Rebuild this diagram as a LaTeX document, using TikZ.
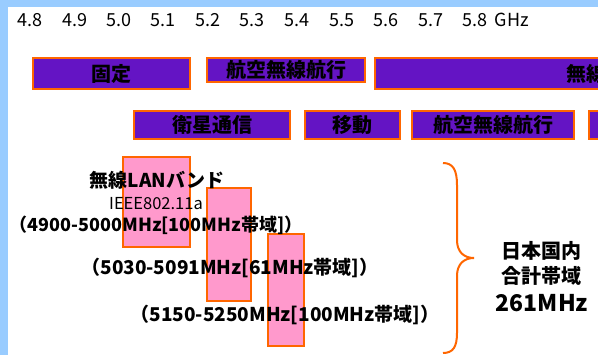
\documentclass[tikz,border=0pt]{standalone}
\usepackage{fontspec}
\setmainfont{Noto Sans CJK JP}
\definecolor{bgblue}{HTML}{99CCFF}
\definecolor{bandpurple}{HTML}{6414C4}
\definecolor{edgeorange}{HTML}{FF6600}
\definecolor{lanpink}{HTML}{FF99CC}
\tikzset{
  bandbox/.style={draw=edgeorange, fill=bandpurple, line width=2.2pt, rectangle, inner sep=0pt,
    font=\fontsize{20}{23}\selectfont\bfseries, text=black},
  lanbox/.style={draw=edgeorange, fill=lanpink, line width=2.2pt, rectangle, inner sep=0pt},
  axislbl/.style={font=\fontsize{18}{21}\selectfont, inner sep=0pt, text=black},
  lbl/.style={font=\fontsize{19}{22}\selectfont\bfseries, inner sep=0pt, text=black},
}
\begin{document}
\begin{tikzpicture}[x=1pt,y=-1pt]
\useasboundingbox (0,0) rectangle (598,355);
\fill[bgblue] (0,0) rectangle (598,355);
\fill[white] (8,7) rectangle (598,355);
\clip (8,7) rectangle (598,355);
% axis
\foreach \v/\x in {4.8/30,4.9/75,5.0/119,5.1/163,5.2/208,5.3/252,5.4/297,5.5/342,5.6/386,5.7/431,5.8/475}{
  \node[axislbl] (ax\x) at (\x,20) {\v};
}
\node[axislbl] (ghz) at (512,20) {GHz};
% row 1
\node[bandbox, minimum width=157pt, minimum height=31pt] (kotei) at (111.5,73.5) {固定};
\node[bandbox, minimum width=158pt, minimum height=24pt] (koku1) at (286,70) {航空無線航行};
\node[bandbox, minimum width=300pt, minimum height=31pt, anchor=west] (musen) at (374,73.5) {};
\node[lbl, font=\fontsize{20}{23}\selectfont\bfseries, anchor=west] (musent) at (566,73.5) {無線};
% row 2
\node[bandbox, minimum width=156pt, minimum height=28pt] (eisei) at (212,125) {衛星通信};
\node[bandbox, minimum width=95pt, minimum height=28pt] (ido) at (352.5,125) {移動};
\node[bandbox, minimum width=162pt, minimum height=28pt] (koku2) at (493,125) {航空無線航行};
\node[bandbox, minimum width=60pt, minimum height=28pt, anchor=west] (last) at (588,125) {};
% LAN bands
\node[lanbox, minimum width=67pt, minimum height=90pt] (lan1) at (156.5,202) {};
\node[lanbox, minimum width=44pt, minimum height=113pt] (lan2) at (229,244.5) {};
\node[lanbox, minimum width=36pt, minimum height=112pt] (lan3) at (286,290) {};
% labels
\node[lbl] (title) at (157,180) {無線LANバンド};
\node[inner sep=0pt, font=\fontsize{16.5}{18}\selectfont] (ieee) at (156,204) {IEEE802.11a};
\node[lbl, font=\fontsize{18}{21}\selectfont\bfseries] (r1) at (156,225) {（4900-5000MHz[100MHz帯域]）};
\node[lbl] (r2) at (230,268) {（5030-5091MHz[61MHz帯域]）};
\node[lbl] (r3) at (285,315) {（5150-5250MHz[100MHz帯域]）};
% brace
\coordinate (btop) at (443,163);
\coordinate (btip) at (474,258);
\coordinate (bbot) at (443,353);
\draw[edgeorange, line width=2pt] (btop) .. controls (453,163) and (457,170) .. (457,185) -- (457,240)
  .. controls (457,252) and (464,258) .. (btip) .. controls (464,258) and (457,264) .. (457,276)
  -- (457,333) .. controls (457,347) and (453,353) .. (bbot);
\node[lbl, font=\fontsize{20}{23}\selectfont\bfseries] (jp1) at (541,251) {日本国内};
\node[lbl, font=\fontsize{20}{23}\selectfont\bfseries] (jp2) at (541,276) {合計帯域};
\node[lbl, font=\fontsize{23}{26}\selectfont\bfseries] (jp3) at (542,303) {261MHz};
\end{tikzpicture}
\end{document}
